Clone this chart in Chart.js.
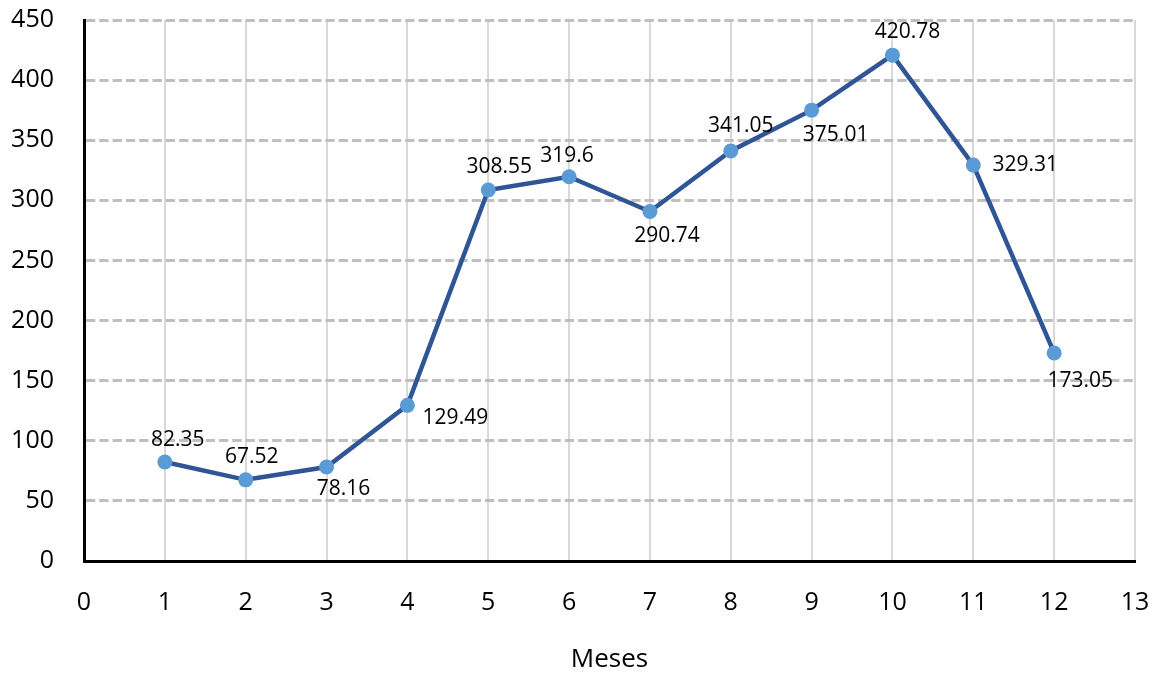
<!DOCTYPE html>
<html>
<head>
<meta charset="utf-8">
<script src="https://cdn.jsdelivr.net/npm/chart.js@4/dist/chart.umd.min.js"></script>
<style>
  html, body { margin: 0; padding: 0; background: #ffffff; }
  #wrap { width: 1158px; height: 675px; }
</style>
</head>
<body>
<div id="wrap"><canvas id="c" width="1158" height="675"></canvas></div>
<script>
// Monthly values
const months = [1, 2, 3, 4, 5, 6, 7, 8, 9, 10, 11, 12];
const values = [82.35, 67.52, 78.16, 129.49, 308.55, 319.6, 290.74, 341.05, 375.01, 420.78, 329.31, 173.05];
const xTitle = 'Meses';

// Where each value label sits relative to its point (pixels)
const labelOffsets = [
  [13, -22], [6, -23], [17, 22], [48, 13], [11, -23], [-2, -21],
  [17, 25], [10, -25], [24, 25], [15, -23], [52, 0], [26, 28]
];

const FONT = '"Open Sans", "Noto Sans", sans-serif';

const valueLabels = {
  id: 'valueLabels',
  afterDatasetsDraw(chart) {
    const ctx = chart.ctx;
    const meta = chart.getDatasetMeta(0);
    ctx.save();
    ctx.font = '21px ' + FONT;
    ctx.fillStyle = '#000000';
    ctx.textAlign = 'center';
    ctx.textBaseline = 'middle';
    meta.data.forEach((pt, i) => {
      const [dx, dy] = labelOffsets[i];
      ctx.fillText(String(values[i]), pt.x + dx, pt.y + dy);
    });
    ctx.restore();
  }
};

new Chart(document.getElementById('c'), {
  type: 'line',
  data: {
    datasets: [{
      data: months.map((m, i) => ({ x: m, y: values[i] })),
      borderColor: '#2f5597',
      borderWidth: 4.5,
      backgroundColor: '#5b9bd5',
      pointBackgroundColor: '#5b9bd5',
      pointBorderColor: '#5b9bd5',
      pointBorderWidth: 0,
      pointRadius: 7.5,
      tension: 0,
      fill: false
    }]
  },
  options: {
    responsive: false,
    animation: false,
    devicePixelRatio: 1,
    layout: { padding: { top: 20, right: 23, bottom: 0, left: 0 } },
    plugins: { legend: { display: false }, tooltip: { enabled: false } },
    scales: {
      x: {
        type: 'linear',
        min: 0,
        max: 13,
        ticks: {
          stepSize: 1,
          color: '#000000',
          font: { family: FONT, size: 25 },
          padding: 27
        },
        grid: { color: '#d9d9d9', lineWidth: 2, drawTicks: false },
        border: { color: '#000000', width: 3 },
        title: {
          display: true,
          text: xTitle,
          color: '#000000',
          font: { family: FONT, size: 26 },
          padding: { top: 20, bottom: 0 }
        },
        afterFit(scale) {
          scale.height = 114;
          scale.paddingLeft = 0;
          scale.paddingRight = 0;
        }
      },
      y: {
        min: 0,
        max: 450,
        ticks: {
          stepSize: 50,
          color: '#000000',
          font: { family: FONT, size: 25 },
          padding: 30
        },
        grid: { color: '#bfbfbf', lineWidth: 3, drawTicks: false },
        border: { color: '#000000', width: 3, dash: [9.3, 4] },
        afterFit(scale) {
          scale.width = 84;
          scale.paddingTop = 0;
          scale.paddingBottom = 0;
        }
      }
    }
  },
  plugins: [valueLabels]
});
</script>
</body>
</html>
